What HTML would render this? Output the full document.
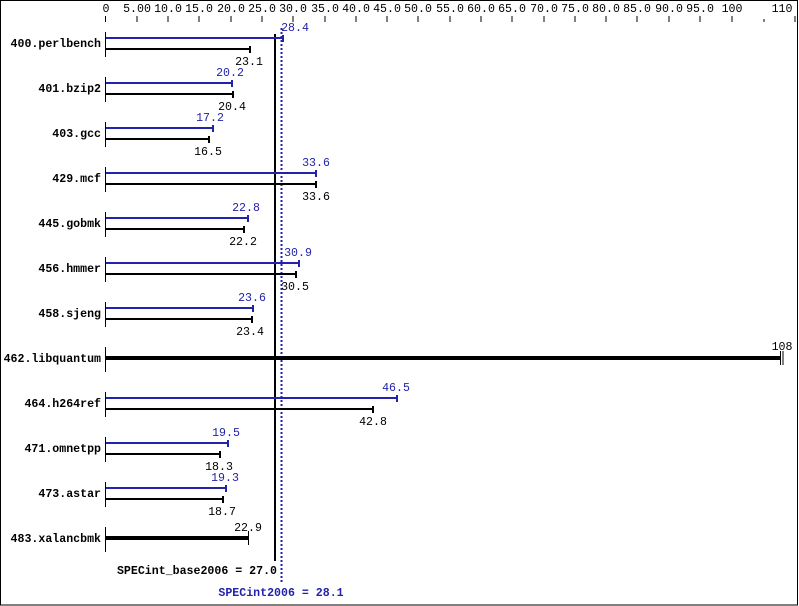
<!DOCTYPE html>
<html><head><meta charset="utf-8"><style>
html,body{margin:0;padding:0;background:#fff}
svg{display:block}
text{font-family:"Liberation Mono","DejaVu Sans Mono",monospace;font-size:11.6px}
.b{font-weight:bold}
.bl{fill:#2222aa}
</style></head><body>
<svg width="799" height="606" viewBox="0 0 799 606" xmlns="http://www.w3.org/2000/svg">
<rect x="0.5" y="0.5" width="797" height="604.5" fill="#fff" stroke="#000"/>
<g text-anchor="middle">
<text x="106" y="12">0</text><text x="137" y="12">5.00</text><text x="168" y="12">10.0</text><text x="199" y="12">15.0</text><text x="231" y="12">20.0</text><text x="262" y="12">25.0</text><text x="293" y="12">30.0</text><text x="325" y="12">35.0</text><text x="356" y="12">40.0</text><text x="387" y="12">45.0</text><text x="418" y="12">50.0</text><text x="450" y="12">55.0</text><text x="481" y="12">60.0</text><text x="512" y="12">65.0</text><text x="544" y="12">70.0</text><text x="575" y="12">75.0</text><text x="606" y="12">80.0</text><text x="637" y="12">85.0</text><text x="669" y="12">90.0</text><text x="700" y="12">95.0</text><text x="732" y="12">100</text><text x="782" y="12">110</text>
</g>
<g stroke="#000" stroke-width="1">
<path d="M105.5 16v6M137 16v6M168 16v6M199 16v6M231 16v6M262 16v6M293 16v6M325 16v6M356 16v6M387 16v6M418 16v6M450 16v6M481 16v6M512 16v6M544 16v6M575 16v6M606 16v6M637 16v6M669 16v6M700 16v6M732 16v6M764 19v3M795 16v6"/>
</g>
<g class="b" text-anchor="end">
<text x="101" y="47">400.perlbench</text><text x="101" y="92">401.bzip2</text><text x="101" y="137">403.gcc</text><text x="101" y="182">429.mcf</text><text x="101" y="227">445.gobmk</text><text x="101" y="272">456.hmmer</text><text x="101" y="317">458.sjeng</text><text x="101" y="362">462.libquantum</text><text x="101" y="407">464.h264ref</text><text x="101" y="452">471.omnetpp</text><text x="101" y="497">473.astar</text><text x="101" y="542">483.xalancbmk</text>
</g>
<g stroke="#000" stroke-width="1">
<path d="M105.5 32v25M105.5 77v25M105.5 122v25M105.5 167v25M105.5 212v25M105.5 257v25M105.5 302v25M105.5 347v25M105.5 392v25M105.5 437v25M105.5 482v25M105.5 527v25"/>
</g>
<line x1="275" y1="34" x2="275" y2="561" stroke="#000" stroke-width="2"/>
<line x1="281.5" y1="28" x2="281.5" y2="584" stroke="#2222aa" stroke-width="2" stroke-dasharray="2,2"/>
<g stroke="#2222aa" stroke-width="2" fill="none">
<path d="M106 38H283M283 35v7"/><path d="M106 83H232M232 80v7"/><path d="M106 128H213M213 125v7"/><path d="M106 173H316M316 170v7"/><path d="M106 218H248M248 215v7"/><path d="M106 263H299M299 260v7"/><path d="M106 308H253M253 305v7"/><path d="M106 398H397M397 395v7"/><path d="M106 443H228M228 440v7"/><path d="M106 488H226M226 485v7"/>
</g>
<g stroke="#000" stroke-width="2" fill="none">
<path d="M106 49H250M250 46v7"/><path d="M106 94H233M233 91v7"/><path d="M106 139H209M209 136v7"/><path d="M106 184H316M316 181v7"/><path d="M106 229H244M244 226v7"/><path d="M106 274H296M296 271v7"/><path d="M106 319H252M252 316v7"/><path d="M106 409H373M373 406v7"/><path d="M106 454H220M220 451v7"/><path d="M106 499H223M223 496v7"/>
</g>
<g stroke="#000" fill="none">
<path d="M106 358H781" stroke-width="4"/><path d="M780.5 351v14M783 351v14" stroke-width="1"/>
<path d="M106 538H248" stroke-width="4"/><path d="M248.5 531v14" stroke-width="1"/>
</g>
<g class="bl" text-anchor="middle">
<text x="295" y="31">28.4</text><text x="230" y="76">20.2</text><text x="210" y="121">17.2</text><text x="316" y="166">33.6</text><text x="246" y="211">22.8</text><text x="298" y="256">30.9</text><text x="252" y="301">23.6</text><text x="396" y="391">46.5</text><text x="226" y="436">19.5</text><text x="225" y="481">19.3</text>
</g>
<g text-anchor="middle">
<text x="249" y="65">23.1</text><text x="232" y="110">20.4</text><text x="208" y="155">16.5</text><text x="316" y="200">33.6</text><text x="243" y="245">22.2</text><text x="295" y="290">30.5</text><text x="250" y="335">23.4</text><text x="782" y="350">108</text><text x="373" y="425">42.8</text><text x="219" y="470">18.3</text><text x="222" y="515">18.7</text><text x="248" y="531">22.9</text>
</g>
<text class="b" x="277" y="574" text-anchor="end">SPECint_base2006 = 27.0</text>
<text class="b bl" x="281" y="596" text-anchor="middle">SPECint2006 = 28.1</text>
</svg>
</body></html>
